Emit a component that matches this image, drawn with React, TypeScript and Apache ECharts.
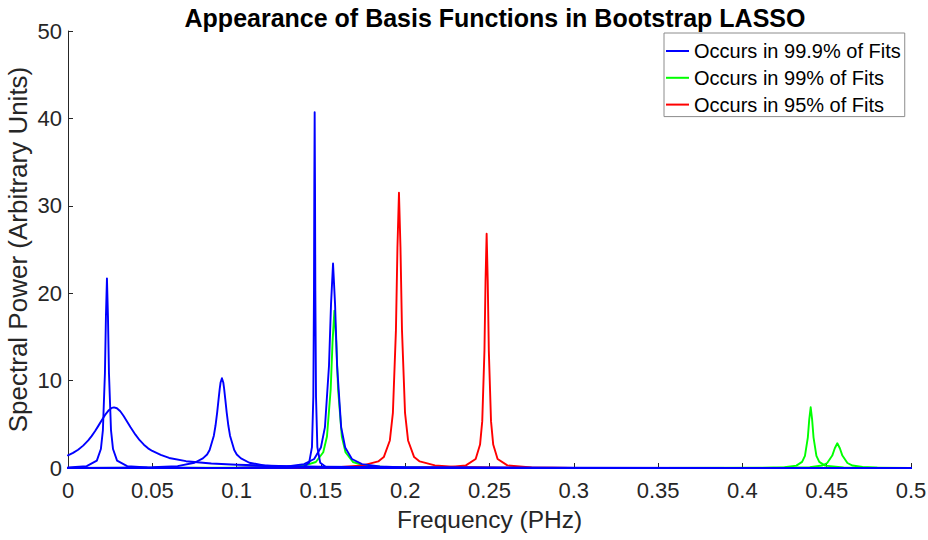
import React, { useEffect, useRef } from "react";
import * as echarts from "echarts";

// Legend groups
const groupNames = ["Occurs in 99.9% of Fits", "Occurs in 99% of Fits", "Occurs in 95% of Fits"];
const groupColors = ["#0000FF", "#00FF00", "#FF0000"];

// Tick values
const xTicks = [0, 0.05, 0.1, 0.15, 0.2, 0.25, 0.3, 0.35, 0.4, 0.45, 0.5];
const yTicks = [0, 10, 20, 30, 40, 50];

// Blue curves (99.9%)
const blue1: [number, number][] = [[0,0.06],[0.0111,0.22],[0.0171,0.84],[0.0195,2.17],[0.0207,4.34],[0.0219,10.85],[0.0225,17.36],[0.0231,21.7],[0.0237,17.36],[0.0243,10.85],[0.0255,4.34],[0.0267,2.17],[0.0291,0.84],[0.0351,0.22],[0.0471,0.05],[0.0831,0.01],[0.5,0]];
const blue2: [number, number][] = [[0,1.45],[0.003,1.73],[0.006,2.09],[0.009,2.56],[0.012,3.16],[0.014,3.65],[0.016,4.2],[0.018,4.82],[0.02,5.46],[0.022,6.07],[0.024,6.57],[0.026,6.88],[0.0273,6.94],[0.029,6.84],[0.031,6.49],[0.033,5.95],[0.035,5.33],[0.037,4.69],[0.04,3.81],[0.0425,3.18],[0.045,2.67],[0.0475,2.25],[0.05,1.95],[0.055,1.5],[0.06,1.15],[0.07,0.78],[0.085,0.52],[0.1,0.38],[0.125,0.24],[0.15,0.16],[0.2,0.08],[0.3,0.035],[0.4,0.018],[0.5,0.01]];
const blue3: [number, number][] = [[0,0.02],[0.03,0.04],[0.05,0.09],[0.065,0.22],[0.075,0.6],[0.08,1.1],[0.0825,1.55],[0.084,2.05],[0.0865,3.7],[0.0875,4.86],[0.0885,6.4],[0.0893,7.85],[0.09,9.09],[0.0905,9.79],[0.0913,10.27],[0.0921,9.79],[0.0926,9.09],[0.0933,7.85],[0.0941,6.4],[0.0951,4.86],[0.0961,3.7],[0.0986,2.05],[0.1001,1.55],[0.1026,1.1],[0.1076,0.6],[0.1176,0.25],[0.135,0.1],[0.16,0.04],[0.2,0.015],[0.3,0.004],[0.5,0.001]];
const blue4: [number, number][] = [[0,0],[0.1,0.003],[0.13,0.025],[0.14,0.16],[0.143,0.59],[0.1447,2.39],[0.1455,8.14],[0.1459,20.35],[0.1461,32.56],[0.1463,40.7],[0.1465,32.56],[0.1467,20.35],[0.1471,8.14],[0.1479,2.39],[0.1496,0.59],[0.1526,0.16],[0.1626,0.025],[0.2,0.002],[0.5,0]];
const blue5: [number, number][] = [[0,0.005],[0.1,0.041],[0.13,0.18],[0.14,0.45],[0.146,1.03],[0.15,2.34],[0.1524,4.68],[0.1548,11.7],[0.156,18.72],[0.1572,23.4],[0.1584,18.72],[0.1596,11.7],[0.162,4.68],[0.1644,2.34],[0.1684,1.03],[0.1744,0.45],[0.185,0.17],[0.2,0.073],[0.25,0.016],[0.5,0.001]];

// Green curves (99%)
const green1: [number, number][] = [[0,0.003],[0.1,0.026],[0.13,0.11],[0.14,0.27],[0.147,0.69],[0.1514,1.8],[0.1536,3.6],[0.1558,9.0],[0.1569,14.4],[0.158,18.0],[0.1591,14.4],[0.1602,9.0],[0.1624,3.6],[0.1646,1.8],[0.169,0.69],[0.176,0.27],[0.19,0.085],[0.22,0.023],[0.3,0.004],[0.5,0.001]];
const green2: [number, number][] = [[0,0],[0.35,0.003],[0.41,0.022],[0.425,0.083],[0.432,0.27],[0.4354,0.7],[0.4371,1.39],[0.4388,3.48],[0.43965,5.56],[0.4405,6.95],[0.44135,5.56],[0.4422,3.48],[0.4439,1.39],[0.4456,0.7],[0.449,0.27],[0.46,0.052],[0.5,0.006]];
const green3: [number, number][] = [[0,0],[0.35,0.002],[0.42,0.019],[0.44,0.093],[0.4473,0.28],[0.4503,0.57],[0.4533,1.42],[0.4548,2.26],[0.4563,2.83],[0.4578,2.26],[0.4593,1.42],[0.4623,0.57],[0.4653,0.28],[0.4713,0.11],[0.48,0.045],[0.5,0.013]];

// Red curves (95%)
const red1: [number, number][] = [[0,0],[0.1,0.012],[0.14,0.04],[0.16,0.1],[0.175,0.3],[0.184,0.75],[0.1873,1.25],[0.1909,3.15],[0.1927,6.3],[0.1945,15.75],[0.1954,25.2],[0.1963,31.5],[0.1972,25.2],[0.1981,15.75],[0.1999,6.3],[0.2017,3.15],[0.2053,1.25],[0.2086,0.75],[0.2176,0.3],[0.23,0.12],[0.26,0.03],[0.3,0.01],[0.5,0.001]];
const red2: [number, number][] = [[0,0],[0.15,0.005],[0.2,0.02],[0.225,0.085],[0.236,0.3],[0.2418,1.03],[0.2444,2.68],[0.2457,5.36],[0.247,13.4],[0.24765,21.44],[0.2483,26.8],[0.24895,21.44],[0.2496,13.4],[0.2509,5.36],[0.2522,2.68],[0.2548,1.03],[0.2606,0.3],[0.275,0.064],[0.3,0.017],[0.5,0.001]];

const FONT = "'Liberation Sans', Arial, Helvetica, sans-serif";

export default function App() {
  const ref = useRef<HTMLDivElement>(null);

  useEffect(() => {
    if (!ref.current) return;
    const chart = echarts.init(ref.current, undefined, { renderer: "svg" });

    const mk = (data: [number, number][], g: number) => ({
      type: "line",
      name: groupNames[g],
      data,
      symbol: "none",
      showSymbol: false,
      smooth: false,
      z: g === 0 ? 5 : g === 2 ? 4 : 3,
      lineStyle: { color: groupColors[g], width: 1.9, join: "round", cap: "round" },
      itemStyle: { color: groupColors[g] },
      emphasis: { disabled: true },
    });

    const option: any = {
      animation: false,
      backgroundColor: "#ffffff",
      textStyle: { fontFamily: FONT },
      title: {
        text: "Appearance of Basis Functions in Bootstrap LASSO",
        left: 490,
        textAlign: "center",
        top: 0,
        textStyle: { fontFamily: FONT, fontSize: 25, fontWeight: "bold", color: "#000" },
      },
      legend: {
        data: groupNames,
        orient: "vertical",
        left: 664,
        top: 33,
        icon: "rect",
        itemWidth: 23,
        itemHeight: 2,
        itemGap: 6.8,
        padding: [8, 4, 2, 2],
        backgroundColor: "#ffffff",
        borderColor: "#8c8c8c",
        borderWidth: 1,
        textStyle: { fontFamily: FONT, fontSize: 20, lineHeight: 20, color: "#000" },
      },
      grid: {
        left: 68,
        top: 31,
        width: 843,
        height: 437,
        containLabel: false,
        outerBoundsMode: "none",
      },
      xAxis: {
        type: "value",
        min: xTicks[0],
        max: xTicks[xTicks.length - 1],
        interval: 0.05,
        name: "Frequency (PHz)",
        nameLocation: "middle",
        nameGap: 39,
        nameMoveOverlap: false,
        nameTextStyle: { fontFamily: FONT, fontSize: 24.5, color: "#262626" },
        axisLine: { show: true, lineStyle: { color: "#262626", width: 1 } },
        axisTick: { show: true, inside: true, length: 5, lineStyle: { color: "#262626" } },
        axisLabel: {
          fontFamily: FONT,
          fontSize: 22,
          color: "#262626",
          margin: 11,
          formatter: (v: number) => String(parseFloat(v.toFixed(2))),
        },
        splitLine: { show: false },
      },
      yAxis: {
        type: "value",
        min: yTicks[0],
        max: yTicks[yTicks.length - 1],
        interval: 10,
        name: "Spectral Power (Arbitrary Units)",
        nameLocation: "middle",
        nameGap: 37,
        nameMoveOverlap: false,
        nameTextStyle: { fontFamily: FONT, fontSize: 26, color: "#262626" },
        axisLine: { show: true, lineStyle: { color: "#262626", width: 1 } },
        axisTick: { show: true, inside: true, length: 5, lineStyle: { color: "#262626" } },
        axisLabel: { fontFamily: FONT, fontSize: 22, color: "#262626", margin: 6 },
        splitLine: { show: false },
      },
      series: [
        mk(green1, 1),
        mk(green2, 1),
        mk(green3, 1),
        mk(red1, 2),
        mk(red2, 2),
        mk(blue1, 0),
        mk(blue2, 0),
        mk(blue3, 0),
        mk(blue4, 0),
        mk(blue5, 0),
      ],
    };

    chart.setOption(option);
    return () => chart.dispose();
  }, []);

  return (
    <div
      ref={ref}
      style={{ position: "absolute", left: 0, top: 0, width: 928, height: 540, background: "#fff" }}
    />
  );
}
